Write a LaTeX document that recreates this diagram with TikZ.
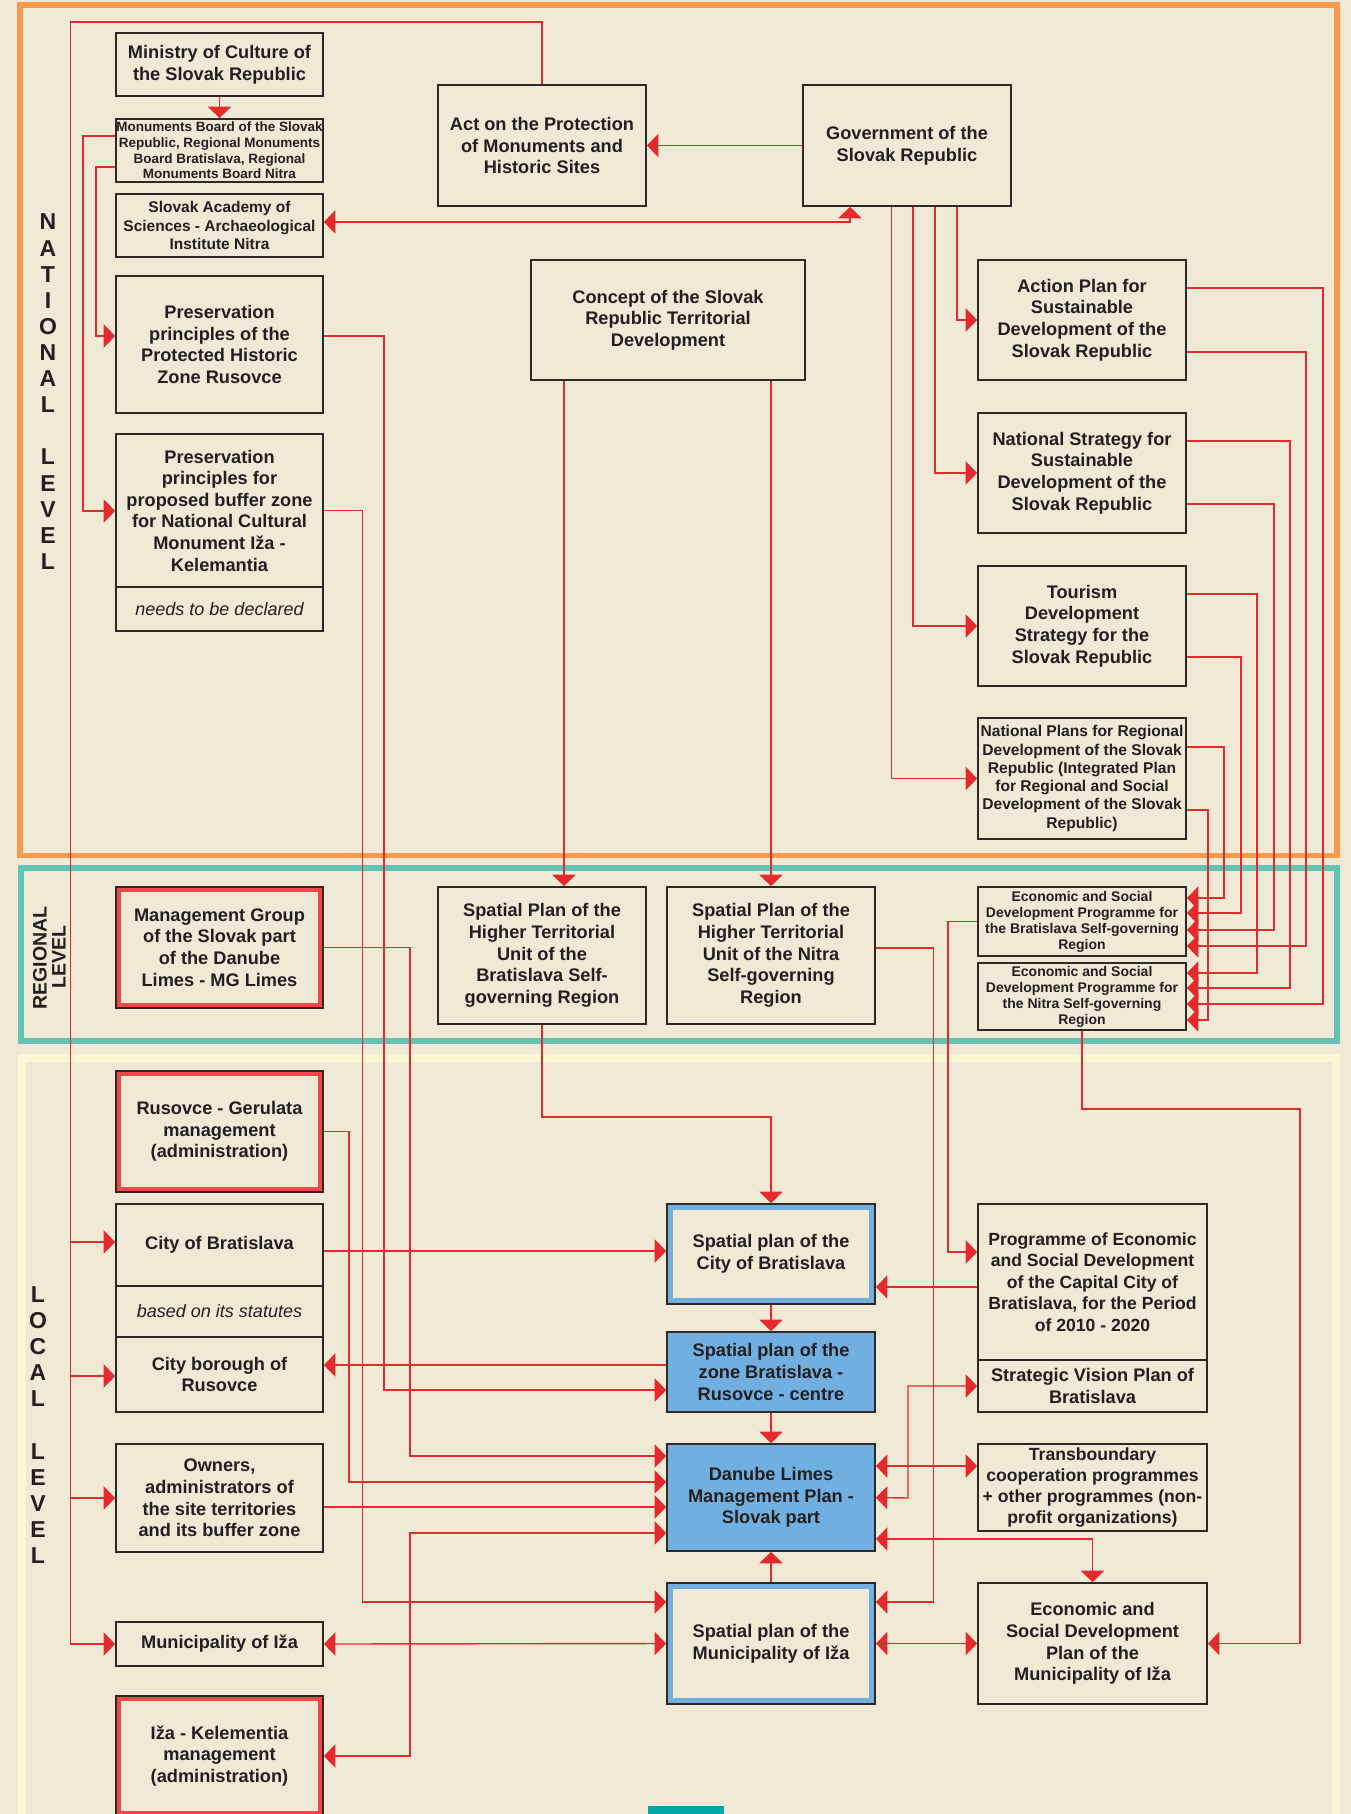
\documentclass[tikz,border=0pt]{standalone}
\usepackage{fontspec}
\setmainfont{Liberation Sans}
\usetikzlibrary{arrows.meta}
\definecolor{bg}{HTML}{EFE9D6}
\definecolor{orng}{HTML}{F79A4B}
\definecolor{tealfr}{HTML}{63C4B4}
\definecolor{paley}{HTML}{FCF7D4}
\definecolor{lnred}{HTML}{E52A2D}
\definecolor{bandred}{HTML}{EE4848}
\definecolor{lblue}{HTML}{70AFE0}
\definecolor{boxln}{HTML}{2D2A26}
\definecolor{txt}{HTML}{231F1F}
\definecolor{tealbar}{HTML}{00A5A8}
\newcommand{\FS}[2]{\fontsize{#1}{#2}\selectfont}
\newcommand{\BX}[7]{%
  \pgfmathsetmacro{\bw}{#4-#2}\pgfmathsetmacro{\bh}{#5-#3}%
  \pgfmathsetmacro{\bcx}{(#2+#4)/2}\pgfmathsetmacro{\bcy}{(#3+#5)/2}%
  \node[#6, minimum width=\bw pt, minimum height=\bh pt] (#1) at (\bcx,\bcy) {#7};}
\newcommand{\RB}[3]{\draw[#2] ([shift={(#3,#3)}]#1.north west) rectangle ([shift={(-#3,-#3)}]#1.south east);}
\begin{document}
\begin{tikzpicture}[x=1pt,y=-1pt,
  box/.style={draw=boxln, line width=1.6pt, inner sep=0pt, align=center, text=txt, font=\bfseries\FS{18.2}{21.6}},
  note/.style={box, font=\itshape\FS{18}{21.6}},
  bluefill/.style={box, fill=lblue},
  conn/.style={draw=lnred, line width=1.4pt, >={Triangle[length=11.5pt,width=23pt]}},
  band/.style={line width=4.5pt, draw=bandred},
  bband/.style={line width=5pt, draw=lblue},
  lvl/.style={font=\bfseries\FS{23}{23}, text=txt, inner sep=0pt},
  rlvl/.style={font=\bfseries\FS{19.5}{20}, text=txt, inner sep=0pt, rotate=90}]
\useasboundingbox (0,0) rectangle (1351,1814);
\clip (0,0) rectangle (1351,1814);
\fill[bg] (0,0) rectangle (1351,1814);
% frames
\draw[orng, line width=5.5pt] (20,5) rectangle (1337,855.5);
\draw[tealfr, line width=6pt] (21,868) rectangle (1337,1041);
\draw[paley, line width=8pt] (22,1058) rectangle (1336,1900);
\fill[tealbar] (648,1806) rectangle (724,1820);
% level labels
\foreach \ch [count=\i] in {N,A,T,I,O,N,A,L}
  \node[lvl] (nat\i) at (48,{222+(\i-1)*26.15}) {\ch};
\foreach \ch [count=\i] in {L,E,V,E,L}
  \node[lvl] (natl\i) at (48,{457+(\i-1)*26.15}) {\ch};
\foreach \ch [count=\i] in {L,O,C,A,L}
  \node[lvl] (loc\i) at (38,{1295+(\i-1)*25.9}) {\ch};
\foreach \ch [count=\i] in {L,E,V,E,L}
  \node[lvl] (locl\i) at (38,{1452+(\i-1)*26}) {\ch};
\node[rlvl] (reg1) at (40,958) {REGIONAL};
\node[rlvl] (reg2) at (59,957) {LEVEL};
% national boxes
\BX{min}{116}{33}{323}{96}{box}{Ministry of Culture of\\the Slovak Republic}
\BX{mon}{116}{119}{323}{182}{box,font=\bfseries\FS{13.5}{15.7}}{Monuments Board of the Slovak\\Republic, Regional Monuments\\Board Bratislava, Regional\\Monuments Board Nitra}
\BX{sav}{116}{194}{323}{257}{box,font=\bfseries\FS{15.5}{18.5}}{Slovak Academy of\\Sciences - Archaeological\\Institute Nitra}
\BX{prr}{116}{276}{323}{413}{box}{Preservation\\principles of the\\Protected Historic\\Zone Rusovce}
\BX{prb}{116}{434}{323}{587}{box}{Preservation\\principles for\\proposed buffer zone\\for National Cultural\\Monument Iža -\\Kelemantia}
\BX{prbn}{116}{587}{323}{631}{note}{needs to be declared}
\BX{act}{438}{85}{646}{206}{box}{Act on the Protection\\of Monuments and\\Historic Sites}
\BX{gov}{803}{85}{1011}{206}{box}{Government of the\\Slovak Republic}
\BX{con}{531}{260}{805}{380}{box}{Concept of the Slovak\\Republic Territorial\\Development}
\BX{apl}{978}{260}{1186}{380}{box}{Action Plan for\\Sustainable\\Development of the\\Slovak Republic}
\BX{nss}{978}{413}{1186}{533}{box}{National Strategy for\\Sustainable\\Development of the\\Slovak Republic}
\BX{tds}{978}{566}{1186}{686}{box}{Tourism\\Development\\Strategy for the\\Slovak Republic}
\BX{npr}{978}{718}{1186}{839}{box,font=\bfseries\FS{15.6}{18.3}}{National Plans for Regional\\Development of the Slovak\\Republic (Integrated Plan\\for Regional and Social\\Development of the Slovak\\Republic)}
% regional boxes
\BX{mgl}{116}{887}{323}{1008}{box}{Management Group\\of the Slovak part\\of the Danube\\Limes - MG Limes}
\BX{htb}{438}{887}{646}{1024}{box}{Spatial Plan of the\\Higher Territorial\\Unit of the\\Bratislava Self-\\governing Region}
\BX{htn}{667}{887}{875}{1024}{box}{Spatial Plan of the\\Higher Territorial\\Unit of the Nitra\\Self-governing\\Region}
\BX{esb}{978}{887}{1186}{956}{box,font=\bfseries\FS{14}{16}}{Economic and Social\\Development Programme for\\the Bratislava Self-governing\\Region}
\BX{esn}{978}{963}{1186}{1030}{box,font=\bfseries\FS{14}{16}}{Economic and Social\\Development Programme for\\the Nitra Self-governing\\Region}
% local boxes
\BX{rg}{116}{1071}{323}{1192}{box}{Rusovce - Gerulata\\management\\(administration)}
\BX{cba}{116}{1204}{323}{1286}{box}{City of Bratislava}
\BX{sta}{116}{1286}{323}{1337}{note}{based on its statutes}
\BX{cbr}{116}{1337}{323}{1412}{box}{City borough of\\Rusovce}
\BX{own}{116}{1444}{323}{1552}{box}{Owners,\\administrators of\\the site territories\\and its buffer zone}
\BX{miz}{116}{1622}{323}{1666}{box}{Municipality of Iža}
\BX{ikm}{116}{1696}{323}{1816}{box}{Iža - Kelementia\\management\\(administration)}
\BX{spb}{667}{1204}{875}{1304}{box}{Spatial plan of the\\City of Bratislava}
\BX{spz}{667}{1332}{875}{1412}{bluefill}{Spatial plan of the\\zone Bratislava -\\Rusovce - centre}
\BX{dlm}{667}{1444}{875}{1551}{bluefill}{Danube Limes\\Management Plan -\\Slovak part}
\BX{spi}{667}{1583}{875}{1704}{box}{Spatial plan of the\\Municipality of Iža}
\BX{pes}{978}{1204}{1207}{1360}{box,font=\bfseries\FS{17.6}{21.6}}{Programme of Economic\\and Social Development\\of the Capital City of\\Bratislava, for the Period\\of 2010 - 2020}
\BX{svp}{978}{1360}{1207}{1412}{box}{Strategic Vision Plan of\\Bratislava}
\BX{tbc}{978}{1444}{1207}{1531}{box,font=\bfseries\FS{17.6}{21}}{Transboundary\\cooperation programmes\\+ other programmes (non-\\profit organizations)}
\BX{edi}{978}{1583}{1207}{1704}{box}{Economic and\\Social Development\\Plan of the\\Municipality of Iža}
% inner bands
\RB{mgl}{band}{3.9}
\RB{rg}{band}{3.9}
\RB{ikm}{band}{3.9}
\RB{spb}{bband}{4.1}
\RB{spi}{bband}{4.1}
% connectors: national
\coordinate (tk) at (70.5,22);
\draw[conn,->] (act.north) |- (tk) |- (miz.west);
\draw[conn,->] (tk |- 0,1242) -- (cba.west |- 0,1242);
\draw[conn,->] (tk |- 0,1376) -- (cbr.west |- 0,1376);
\draw[conn,->] (tk |- 0,1498) -- (own.west |- 0,1498);
\draw[conn,->] (min.south) -- (mon.north);
\draw[conn,->] (mon.west |- 0,136) -| (83,511) -- (prb.west |- 0,511);
\draw[conn,->] (mon.west |- 0,167) -| (96,336) -- (prr.west |- 0,336);
\draw[conn,->] (gov.west) -- (act.east);
\draw[conn,<->] (sav.east |- 0,222) -| (gov.south -| 850,0);
\draw[conn,->] (gov.south -| 957,0) |- (apl.west);
\draw[conn,->] (gov.south -| 935,0) |- (nss.west);
\draw[conn,->] (gov.south -| 913,0) |- (tds.west);
\draw[conn,->] (gov.south -| 891.5,0) |- (npr.west);
\draw[conn,->] (con.south -| 564,0) -- (htb.north -| 564,0);
\draw[conn,->] (con.south -| 771,0) -- (htn.north);
\draw[conn,->] (apl.east |- 0,288) -| (1323,1004) -- (esn.east |- 0,1004);
\draw[conn,->] (apl.east |- 0,352) -| (1306,946) -- (esb.east |- 0,946);
\draw[conn,->] (nss.east |- 0,441) -| (1290,988) -- (esn.east |- 0,988);
\draw[conn,->] (nss.east |- 0,504) -| (1274,930) -- (esb.east |- 0,930);
\draw[conn,->] (tds.east |- 0,594) -| (1257,973) -- (esn.east |- 0,973);
\draw[conn,->] (tds.east |- 0,657) -| (1241,913) -- (esb.east |- 0,913);
\draw[conn,->] (npr.east |- 0,747) -| (1224,898) -- (esb.east |- 0,898);
\draw[conn,->] (npr.east |- 0,810) -| (1208,1020) -- (esn.east |- 0,1020);
% connectors: to local level
\draw[conn,->] (prr.east |- 0,336) -| (384,1390) -- (spz.west |- 0,1390);
\draw[conn,->] (prb.east) -| (362.5,1602) -- (spi.west |- 0,1602);
\draw[conn,->] (mgl.east) -| (410,1456) -- (dlm.west |- 0,1456);
\draw[conn,->] (rg.east) -| (349,1482) -- (dlm.west |- 0,1482);
\draw[conn,->] (cba.east |- 0,1251) -- (spb.west |- 0,1251);
\draw[conn,->] (spz.west |- 0,1365) -- (cbr.east |- 0,1365);
\draw[conn,->] (own.east |- 0,1507) -- (dlm.west |- 0,1507);
\draw[conn,<->] (ikm.east |- 0,1756) -| (410,1533) -- (dlm.west |- 0,1533);
\draw[conn,<->] (miz.east) -- (spi.west);
\draw[conn,->] (htb.south) |- (spb.north |- 0,1117) -- (spb.north);
\draw[conn,->] (spb.south) -- (spz.north);
\draw[conn,->] (spz.south) -- (dlm.north);
\draw[conn,->] (spi.north) -- (dlm.south);
\draw[conn,->] (htn.east |- 0,948) -| (933.5,1602) -- (spi.east |- 0,1602);
\draw[conn,->] (esb.west) -| (948,1252) -- (pes.west |- 0,1252);
\draw[conn,->] (esn.south) |- (1300,1109) |- (edi.east);
\draw[conn,->] (pes.west |- 0,1287) -- (spb.east |- 0,1287);
\draw[conn,<->] (svp.west) -| (908,1498) -- (dlm.east);
\draw[conn,<->] (dlm.east |- 0,1466) -- (tbc.west |- 0,1466);
\draw[conn,<->] (dlm.east |- 0,1539) -| (edi.north);
\draw[conn,<->] (spi.east) -- (edi.west);
\end{tikzpicture}
\end{document}
